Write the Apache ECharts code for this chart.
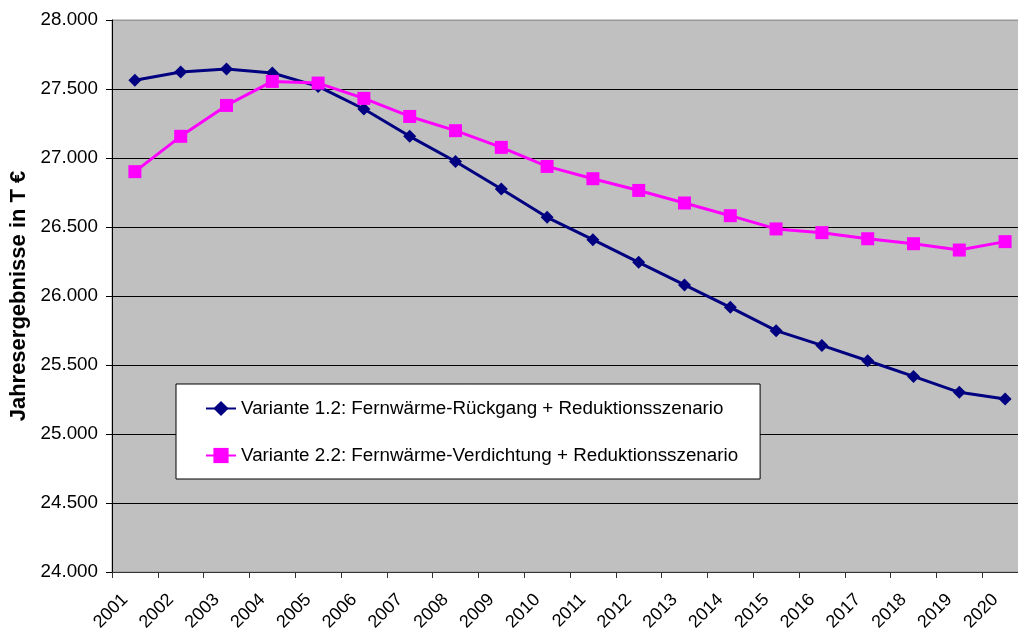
<!DOCTYPE html>
<html>
<head>
<meta charset="utf-8">
<script src="https://cdn.jsdelivr.net/npm/echarts@6/dist/echarts.min.js"></script>
<style>
html,body{margin:0;padding:0;background:#fff;overflow:hidden;width:1018px;height:630px;}
#chart{width:1028px;height:630px;}
</style>
</head>
<body>
<div id="chart"></div>
<script>
const years = ['2001','2002','2003','2004','2005','2006','2007','2008','2009','2010','2011','2012','2013','2014','2015','2016','2017','2018','2019','2020'];
const variante12 = [27563,27623,27645,27616,27519,27355,27157,26975,26775,26570,26408,26244,26080,25918,25749,25642,25531,25417,25302,25254];
const variante22 = [26901,27157,27381,27555,27543,27432,27301,27198,27077,26939,26850,26765,26674,26582,26486,26459,26415,26379,26333,26394];
const seriesNames = ['Variante 1.2: Fernwärme-Rückgang + Reduktionsszenario','Variante 2.2: Fernwärme-Verdichtung + Reduktionsszenario'];
const yAxisName = 'Jahresergebnisse in T €';

function fmt(v){
  const s = String(Math.round(v));
  return s.replace(/\B(?=(\d{3})+(?!\d))/g, '.');
}
const FONT = 'Liberation Sans, Arial, sans-serif';
const chart = echarts.init(document.getElementById('chart'), null, {renderer:'canvas'});
const splitColors = ['#000','#000','#000','#000','#000','#000','#000','#000','#999'];
chart.setOption({
  animation:false,
  textStyle:{fontFamily:FONT},
  grid:{left:112, top:20, right:0, height:552, outerBoundsMode:'none', containLabel:false,
        show:true, backgroundColor:'#C0C0C0', borderColor:'#999', borderWidth:1},
  legend:{
    orient:'vertical', left:176, top:384,
    backgroundColor:'#fff', borderColor:'#000', borderWidth:1,
    padding:[15,22,14,29], itemGap:28, itemWidth:30, itemHeight:19,
    textStyle:{fontFamily:FONT, fontSize:18.8, color:'#000'},
    data:seriesNames
  },
  xAxis:{
    type:'category', data:years, boundaryGap:true,
    axisLine:{lineStyle:{color:'#333', width:1}},
    axisTick:{show:true, length:6, lineStyle:{color:'#333'}},
    axisLabel:{rotate:45, fontSize:18, color:'#000', margin:15, padding:[0,14,0,0], fontFamily:FONT},
    splitLine:{show:false}
  },
  yAxis:{
    type:'value', min:24000, max:28000, interval:500,
    name:yAxisName, nameLocation:'middle', nameRotate:90, nameGap:81,
    nameTextStyle:{fontSize:22, fontWeight:'bold', color:'#000', fontFamily:FONT},
    axisLine:{show:true, lineStyle:{color:'#000', width:1}},
    axisTick:{show:true, length:6, lineStyle:{color:'#000'}},
    axisLabel:{fontSize:18.8, color:'#000', margin:14, formatter:fmt, fontFamily:FONT},
    splitLine:{show:true, lineStyle:{color:splitColors, width:1}}
  },
  series:[
    {name:seriesNames[0], type:'line', data:variante12, symbol:'diamond', symbolSize:13,
     itemStyle:{color:'#000080'}, lineStyle:{color:'#000080', width:3}},
    {name:seriesNames[1], type:'line', data:variante22, symbol:'rect', symbolSize:13,
     itemStyle:{color:'#FF00FF'}, lineStyle:{color:'#FF00FF', width:3}}
  ]
});
</script>
</body>
</html>
